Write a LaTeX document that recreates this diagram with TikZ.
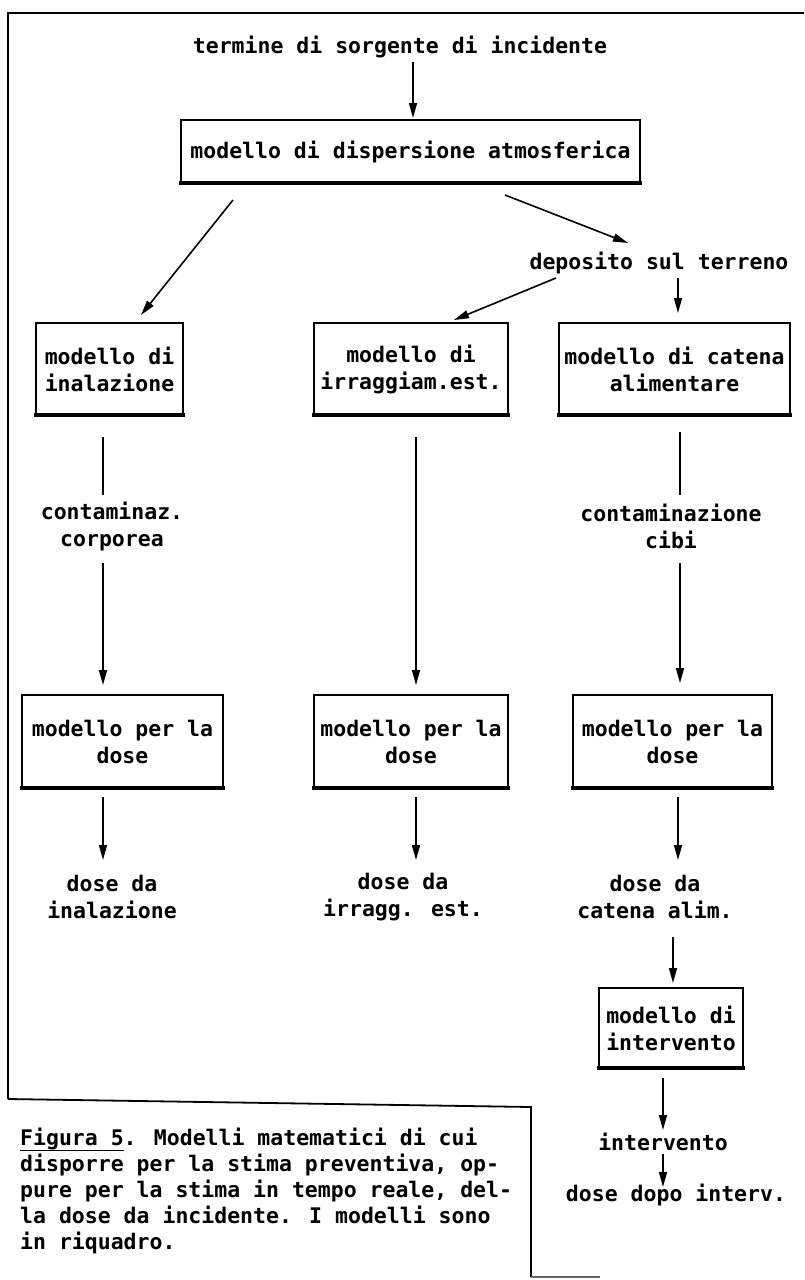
\documentclass[tikz,border=0pt]{standalone}
\usepackage{fontspec}
\newfontfamily\typefont{DejaVu Sans Mono}
\usetikzlibrary{arrows.meta,calc}
% underline that sits just under the descenders of a monospaced word
\newcommand\capunder[2]{\rlap{\rule[-5.6pt]{#1}{1.3pt}}#2}
\begin{document}
\begin{tikzpicture}[x=1pt,y=-1pt,
  every node/.style={font=\typefont\bfseries\fontsize{21.5}{27}\selectfont,
    inner sep=0pt, align=center},
  model/.style 2 args={draw, line width=1.5pt, minimum width=#1, minimum height=#2},
  arr/.style={line width=1.6pt, -{Triangle[length=15pt,width=8pt]}},
  plain/.style={line width=1.6pt},
  frame/.style={line width=1.8pt}]
\useasboundingbox[fill=white] (0,0) rectangle (804,1280);

% outer frame, open at the lower right around the caption
\draw[frame] (8,1099) -- (8,13) -- (804,13);
\draw[frame] (8,1099) -- (531,1107) -- (531,1277);
\draw[line width=1.2pt, black!60] (531,1277) -- (600,1277);

% source term and dispersion model
\node (src) at (400,47) {termine di sorgente di incidente};
\node[model={459pt}{63pt}] (disp) at (410.5,151.5) {modello di dispersione atmosferica};
\node (depo) at (659,263) {deposito sul terreno};

% second row of models
\node[model={147pt}{92pt}] (inal) at (109.5,369) {modello di\\inalazione};
\node[model={194pt}{92pt}] (irr) at (411,369) {modello di\\irraggiam.est.};
\node[model={231pt}{92pt}] (cat) at (674.5,369) {modello di catena\\alimentare};

\node (cont1) at (112,526) {contaminaz.\\corporea};
\node (cont3) at (671,526) {contaminazione\\cibi};

% dose models
\node[model={201pt}{93pt}] (dose1) at (122.5,741.5) {modello per la\\dose};
\node[model={194pt}{93pt}] (dose2) at (411,741.5) {modello per la\\dose};
\node[model={199pt}{93pt}] (dose3) at (672.5,741.5) {modello per la\\dose};

\node (out1) at (112,897) {dose da\\inalazione};
\node (out2) at (403,897) {dose da\\irragg. est.};
\node (out3) at (655,897) {dose da\\catena alim.};

% countermeasures
\node[model={144pt}{80pt}] (interv) at (671,1028) {modello di\\intervento};
\node (intv) at (663,1142) {intervento};
\node (after) at (676,1195) {dose dopo interv.};

% heavy lower edge of every model box
\foreach \n in {disp,inal,irr,cat,dose1,dose2,dose3,interv}
  \draw[line width=4pt] ($(\n.south west)+(-1,-1)$) -- ($(\n.south east)+(1,-1)$);

% connectors
\draw[arr] ($(src)+(13,15)$) -- ($(disp)+(2.5,-33.5)$);
\draw[arr] ($(disp)+(-177.5,48.5)$) -- ($(inal)+(31.5,-54)$);
\draw[arr] ($(disp)+(94.5,43.5)$) -- ($(depo)+(-31,-20)$);
\draw[arr] ($(depo)+(-103,15)$) -- ($(irr)+(43,-49)$);
\draw[arr] ($(depo)+(19,15)$) -- ($(cat)+(3.5,-56)$);

\draw[plain] ($(inal)+(-6.5,68)$) -- ($(cont1)+(-9,-31)$);
\draw[arr] ($(cont1)+(-9,37)$) -- ($(dose1)+(-19.5,-56.5)$);
\draw[arr] ($(irr)+(5,68)$) -- ($(dose2)+(5,-56.5)$);
\draw[plain] ($(cat)+(5.5,63)$) -- ($(cont3)+(9,-31)$);
\draw[arr] ($(cont3)+(9,37)$) -- ($(dose3)+(7.5,-58.5)$);

\draw[arr] ($(dose1)+(-19.5,55.5)$) -- ($(out1)+(-9,-37)$);
\draw[arr] ($(dose2)+(5,55.5)$) -- ($(out2)+(13,-37)$);
\draw[arr] ($(dose3)+(5.5,55.5)$) -- ($(out3)+(23,-37)$);

\draw[arr] ($(out3)+(18,40)$) -- ($(interv)+(2,-45)$);
\draw[arr] ($(interv)+(-8,50)$) -- ($(intv)+(0,-12)$);
\draw[arr] ($(intv)+(0,12)$) -- ($(after)+(-13,-8)$);

% caption
\node[anchor=north west, align=left, font=\typefont\bfseries\fontsize{21.5}{26}\selectfont] (cap) at (20,1128)
  {\capunder{103.6pt}{Figura 5}. Modelli matematici di cui\\
   disporre per la stima preventiva, op-\\
   pure per la stima in tempo reale, del-\\
   la dose da incidente. I modelli sono\\
   in riquadro.};
\end{tikzpicture}
\end{document}
